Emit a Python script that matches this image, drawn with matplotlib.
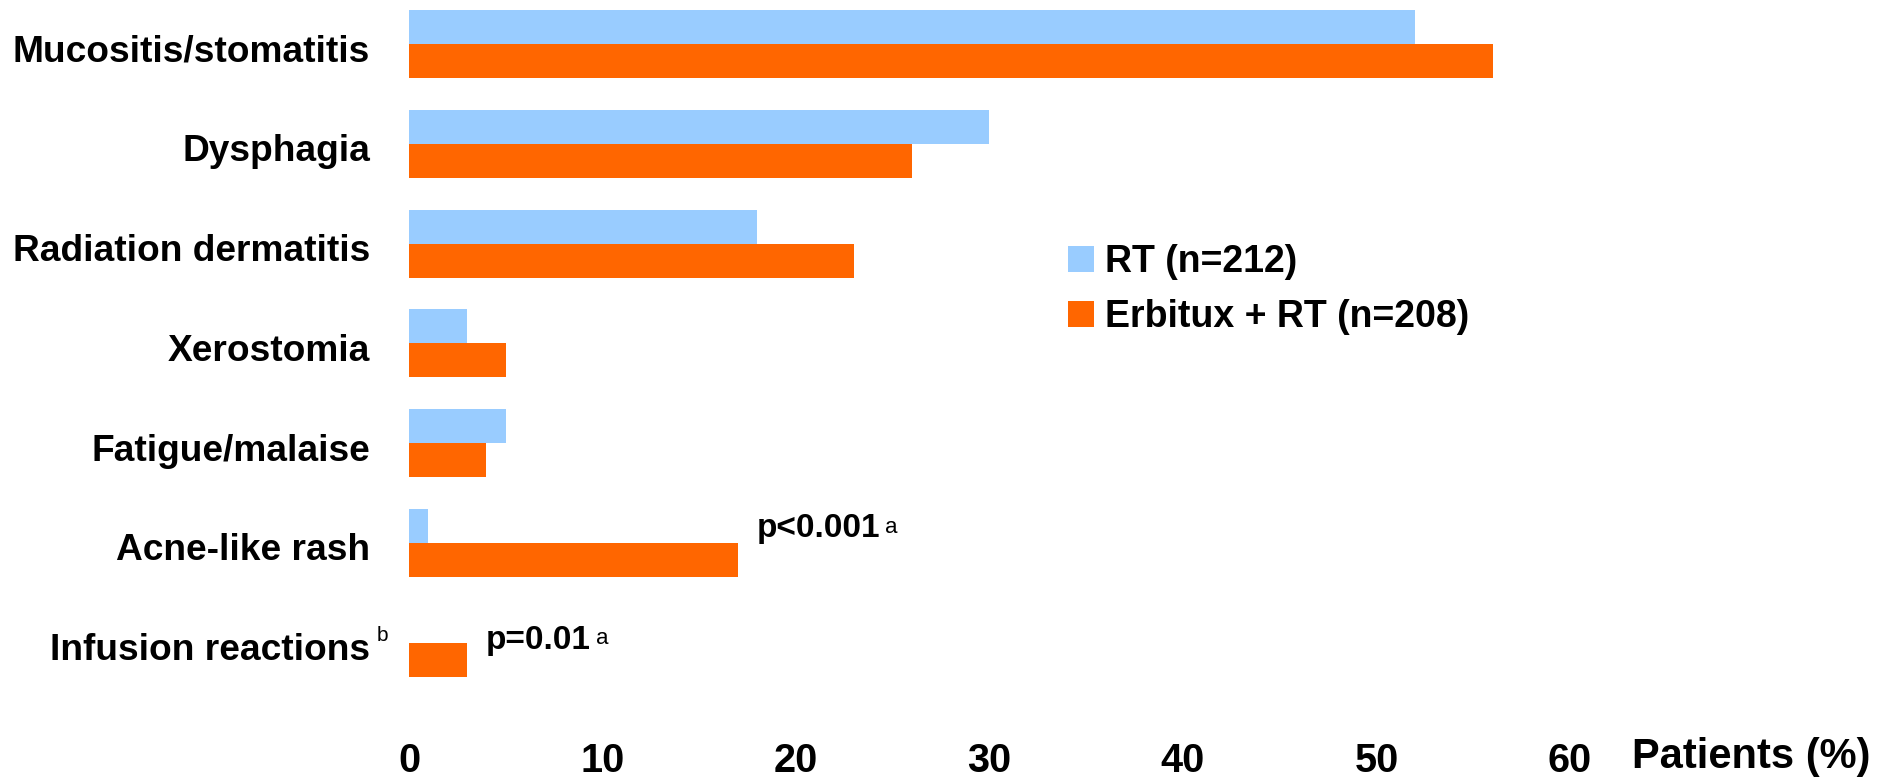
import numpy as np
import matplotlib
matplotlib.use("Agg")
import matplotlib.pyplot as plt
from matplotlib.transforms import ScaledTranslation

plt.rcParams['font.family'] = ['Liberation Sans', 'DejaVu Sans']

categories = ["Mucositis/stomatitis", "Dysphagia", "Radiation dermatitis",
              "Xerostomia", "Fatigue/malaise", "Acne-like rash",
              "Infusion reactions"]
rt = [52, 30, 18, 3, 5, 1, 0]
erbitux_rt = [56, 26, 23, 5, 4, 17, 3]
series_names = ["RT (n=212)", "Erbitux + RT (n=208)"]
xticks = [0, 10, 20, 30, 40, 50, 60]

blue = "#99CCFF"
orange = "#FF6600"

W, H = 1881, 777
fig = plt.figure(figsize=(W / 100, H / 100), dpi=100)

# axes placed in pixel units of the figure
left, right, top, bottom = 409, 1570, 0, 735
ax = fig.add_axes([left / W, (H - bottom) / H, (right - left) / W, (bottom - top) / H])

pitch = 99.8
ax.set_ylim((bottom - 44) / pitch, (top - 44) / pitch)
ax.set_xlim(0, 60)

y = np.arange(len(categories))
h = 0.34
b1 = ax.barh(y - h / 2, rt, height=h, color=blue, label=series_names[0])
b2 = ax.barh(y + h / 2, erbitux_rt, height=h, color=orange, label=series_names[1])

for s in ax.spines.values():
    s.set_visible(False)

ax.set_yticks(y)
ax.set_yticklabels(categories, fontsize=26.7, fontweight='bold')
ax.tick_params(axis='y', length=0, pad=28)
# nudge category names a little below the bar pair centre
shift = ScaledTranslation(0, -4 / 100, fig.dpi_scale_trans)
for lab in ax.get_yticklabels():
    lab.set_transform(lab.get_transform() + shift)

ax.set_xticks(xticks)
ax.set_xticklabels([str(t) for t in xticks], fontsize=28.5, fontweight='bold')
ax.tick_params(axis='x', length=0, pad=5)

# superscript b after "Infusion reactions"
fig.text(377 / W, (H - 641) / H, "b", fontsize=15, va='baseline', ha='left')

# p-value notes next to the Erbitux bars
def pnote(idx, text, dy_pts):
    t = ax.annotate(text, xy=(erbitux_rt[idx], idx), xytext=(13.5, dy_pts),
                    textcoords='offset points', fontsize=24, fontweight='bold',
                    va='baseline', ha='left')
    ax.annotate("a", xy=(1, 0), xycoords=t, xytext=(3.5, 8.5),
                textcoords='offset points', fontsize=16, va='baseline', ha='left')

pnote(5, "p<0.001", 4)
pnote(6, "p=0.01", -4.5)

fig.text(1632 / W, (H - 768) / H, "Patients (%)", fontsize=30, fontweight='bold',
         va='baseline', ha='left')

leg = fig.legend(handles=[b1, b2], loc='upper left',
                 bbox_to_anchor=(1068 / W, (H - 244) / H),
                 frameon=False, prop={'size': 27, 'weight': 'bold'},
                 handlelength=0.69, handleheight=0.69, handletextpad=0.3,
                 labelspacing=0.5, borderaxespad=0, borderpad=0)

fig.savefig("out.png", dpi=100, facecolor='white')
